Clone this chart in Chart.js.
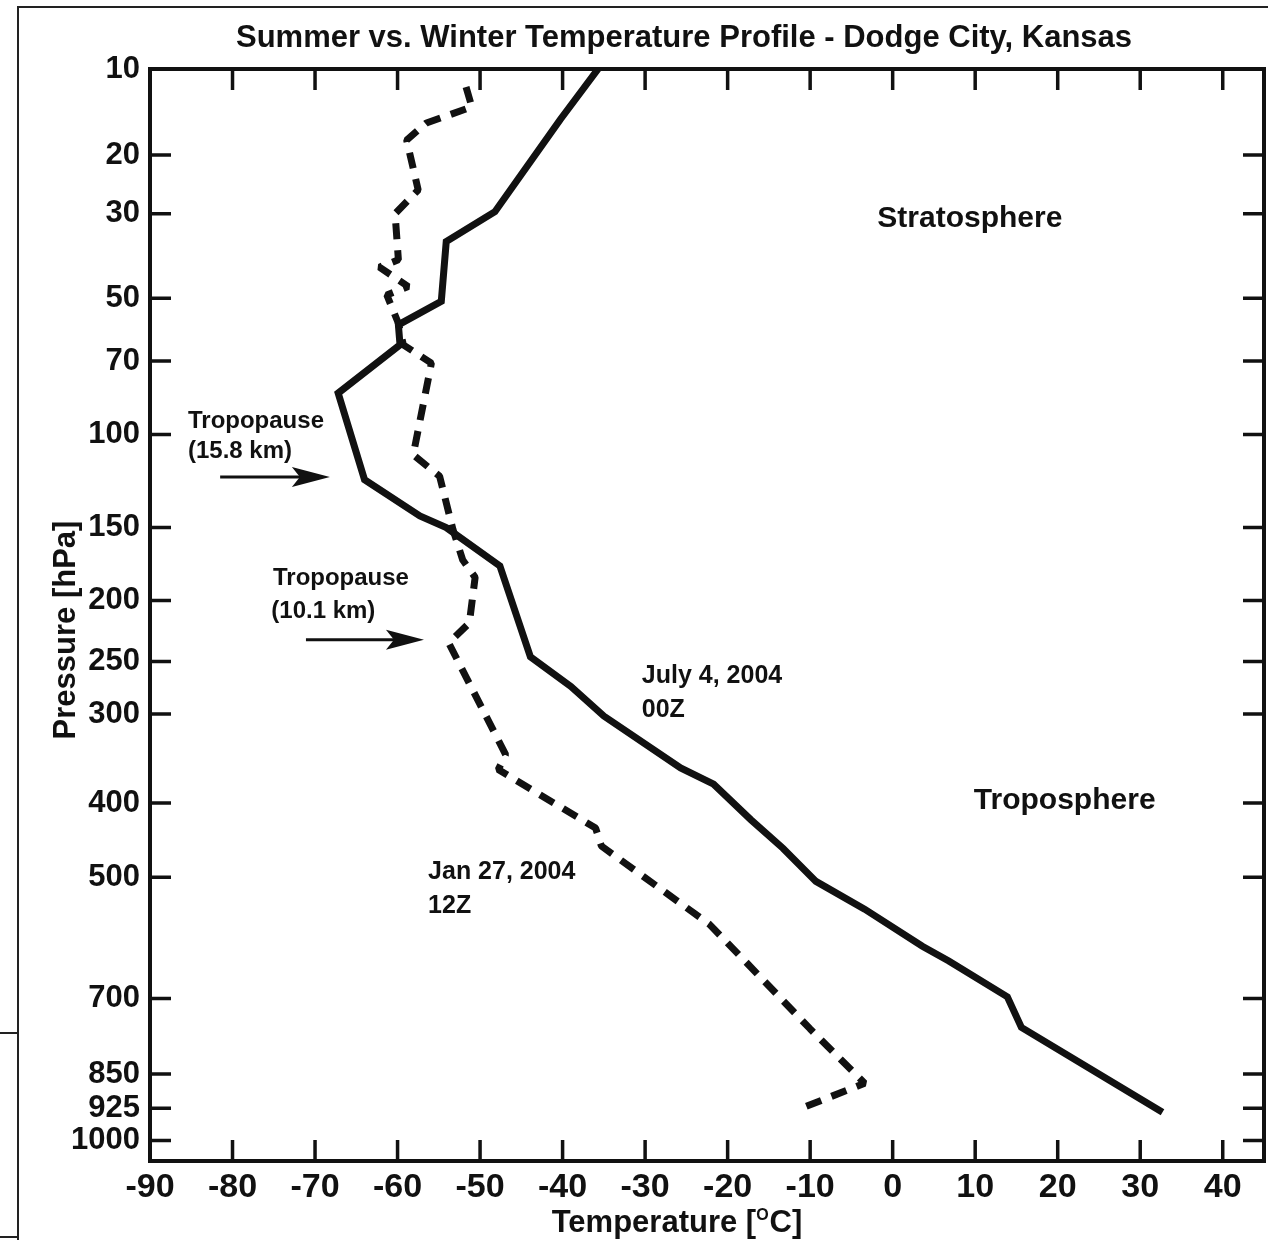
<!DOCTYPE html>
<html>
<head>
<meta charset="utf-8">
<title>Summer vs. Winter Temperature Profile - Dodge City, Kansas</title>
<script src="https://cdn.jsdelivr.net/npm/chart.js@4.4.1/dist/chart.umd.min.js"></script>
<style>
  html, body { margin: 0; padding: 0; background: #fff; }
  #wrap { position: relative; width: 1268px; height: 1240px; overflow: hidden; background: #fff; }
  #chart { position: absolute; left: 0; top: 0; }
  .edge { position: absolute; background: #222; }
</style>
</head>
<body>
<div id="wrap">
  <div class="edge" style="left:17px;top:6px;width:1251px;height:2px"></div>
  <div class="edge" style="left:17px;top:6px;width:2px;height:1234px"></div>
  <div class="edge" style="left:0;top:1032px;width:18px;height:2px"></div>
  <div class="edge" style="left:0;top:1236px;width:18px;height:2px"></div>
  <canvas id="chart" width="1268" height="1240"></canvas>
</div>
<script>
// July 4, 2004 00Z sounding (solid line)
const julyTemp = [-35.7, -40.3, -48.2, -54.1, -54.7, -59.9, -59.7, -67.2, -64.0, -57.3, -54.1, -47.6, -43.9,
                  -39.0, -35.0, -25.7, -21.7, -17.2, -13.3, -9.3, -3.4, 3.6, 6.8, 13.9, 15.6, 32.7];
const julyPres = [10, 15.3, 29.6, 35.8, 50.9, 57.9, 64.4, 82.2, 122.5, 143, 150, 175, 246,
                  273, 302, 358, 377, 421, 459, 506, 548, 608, 633, 697, 755, 934];

// Jan 27, 2004 12Z sounding (dashed line)
const janTemp = [-51.7, -51.0, -56.5, -58.9, -57.5, -60.3, -59.9, -62.2, -58.7, -61.3, -59.9, -59.3, -55.9,
                 -58.1, -54.9, -53.3, -52.1, -50.6, -51.3, -53.8, -46.9, -47.8, -36.0, -35.3, -22.2,
                 -17.7, -10.0, -3.4, -10.9];
const janPres = [11.7, 13.8, 15.7, 17.9, 25.6, 30, 40, 41.8, 46.8, 49.1, 57.4, 64.4, 70.8,
                 109.7, 120.7, 151, 171, 183, 217.5, 234, 343, 360, 432, 456, 572,
                 636, 758, 870, 924];

// axis ticks
const tempTicks = [-90, -80, -70, -60, -50, -40, -30, -20, -10, 0, 10, 20, 30, 40];
const presTicks = [10, 20, 30, 50, 70, 100, 150, 200, 250, 300, 400, 500, 700, 850, 925, 1000];

const ink = '#111';
const family = '"Liberation Sans", Arial, Helvetica, sans-serif';

// text labels placed in data units (temperature, pressure)
const notes = [
  { text: 'Stratosphere', t: 9.35, p: 31.0, size: 30, align: 'center' },
  { text: 'Troposphere', t: 20.85, p: 397, size: 30, align: 'center' },
  { text: 'Tropopause', t: -85.4, p: 93.9, size: 24, align: 'left' },
  { text: '(15.8 km)', t: -85.4, p: 107.9, size: 24, align: 'left' },
  { text: 'Tropopause', t: -75.1, p: 183.4, size: 24, align: 'left' },
  { text: '(10.1 km)', t: -75.3, p: 208, size: 24, align: 'left' },
  { text: 'July 4, 2004', t: -30.4, p: 263, size: 25, align: 'left' },
  { text: '00Z', t: -30.4, p: 296, size: 25, align: 'left' },
  { text: 'Jan 27, 2004', t: -56.3, p: 492, size: 25, align: 'left' },
  { text: '12Z', t: -56.3, p: 543, size: 25, align: 'left' }
];
const arrows = [
  { from: -81.5, to: -68.2, p: 121 },
  { from: -71.1, to: -56.8, p: 231.4 }
];

// pressure axis spaced by p^0.286 (Stuve style)
const K = 0.286;
class PressureScale extends Chart.LinearScale {
  getPixelForValue(value) {
    const a = Math.pow(this.min, K), b = Math.pow(this.max, K);
    return this.getPixelForDecimal((Math.pow(value, K) - a) / (b - a));
  }
  getValueForPixel(pixel) {
    const a = Math.pow(this.min, K), b = Math.pow(this.max, K);
    return Math.pow(a + this.getDecimalForPixel(pixel) * (b - a), 1 / K);
  }
}
PressureScale.id = 'pressure';
PressureScale.defaults = Chart.LinearScale.defaults;
Chart.register(PressureScale);

const decor = {
  id: 'decor',
  afterDatasetsDraw(chart) {
    const { ctx, chartArea: a, scales: { x, y } } = chart;
    ctx.save();
    ctx.strokeStyle = ink;
    ctx.fillStyle = ink;

    // frame and inward ticks on all four sides
    ctx.lineWidth = 4;
    ctx.strokeRect(a.left, a.top, a.right - a.left, a.bottom - a.top);
    ctx.lineWidth = 3.5;
    ctx.beginPath();
    x.ticks.forEach(tk => {
      const px = x.getPixelForValue(tk.value);
      ctx.moveTo(px, a.bottom); ctx.lineTo(px, a.bottom - 21);
      ctx.moveTo(px, a.top); ctx.lineTo(px, a.top + 21);
    });
    y.ticks.forEach(tk => {
      const py = y.getPixelForValue(tk.value);
      ctx.moveTo(a.left, py); ctx.lineTo(a.left + 21, py);
      ctx.moveTo(a.right, py); ctx.lineTo(a.right - 21, py);
    });
    ctx.stroke();

    // annotations
    ctx.textBaseline = 'middle';
    notes.forEach(n => {
      ctx.font = 'bold ' + n.size + 'px ' + family;
      ctx.textAlign = n.align;
      ctx.fillText(n.text, x.getPixelForValue(n.t), y.getPixelForValue(n.p));
    });
    ctx.lineWidth = 3;
    arrows.forEach(ar => {
      const x0 = x.getPixelForValue(ar.from), x1 = x.getPixelForValue(ar.to);
      const py = y.getPixelForValue(ar.p);
      ctx.beginPath();
      ctx.moveTo(x0, py); ctx.lineTo(x1 - 20, py);
      ctx.stroke();
      ctx.beginPath();
      ctx.moveTo(x1, py);
      ctx.lineTo(x1 - 38, py - 10);
      ctx.lineTo(x1 - 30, py);
      ctx.lineTo(x1 - 38, py + 10);
      ctx.closePath();
      ctx.fill();
    });

    // chart title
    ctx.textAlign = 'center';
    ctx.textBaseline = 'alphabetic';
    ctx.font = 'bold 31px ' + family;
    ctx.fillText('Summer vs. Winter Temperature Profile - Dodge City, Kansas', 684, 47);

    // y axis title
    ctx.save();
    ctx.translate(75, 630);
    ctx.rotate(-Math.PI / 2);
    ctx.font = 'bold 31px ' + family;
    ctx.fillText('Pressure [hPa]', 0, 0);
    ctx.restore();

    // x axis title with raised O for degrees
    const head = 'Temperature [', sup = 'O', tail = 'C]';
    ctx.font = 'bold 31px ' + family;
    const w1 = ctx.measureText(head).width, w3 = ctx.measureText(tail).width;
    ctx.font = 'bold 16px ' + family;
    const w2 = ctx.measureText(sup).width + 1;
    const tx = 677 - (w1 + w2 + w3) / 2;
    ctx.textAlign = 'left';
    ctx.font = 'bold 31px ' + family;
    ctx.fillText(head, tx, 1232);
    ctx.font = 'bold 16px ' + family;
    ctx.fillText(sup, tx + w1, 1220);
    ctx.font = 'bold 31px ' + family;
    ctx.fillText(tail, tx + w1 + w2, 1232);

    ctx.restore();
  }
};

const ctx = document.getElementById('chart').getContext('2d');
const profile = new Chart(ctx, {
  type: 'scatter',
  data: {
    datasets: [
      {
        label: 'July 4, 2004 00Z',
        data: julyTemp.map((t, i) => ({ x: t, y: julyPres[i] })),
        showLine: true,
        borderColor: ink,
        borderWidth: 7,
        borderJoinStyle: 'miter',
        pointRadius: 0,
        tension: 0
      },
      {
        label: 'Jan 27, 2004 12Z',
        data: janTemp.map((t, i) => ({ x: t, y: janPres[i] })),
        showLine: true,
        borderColor: ink,
        borderWidth: 7,
        borderDash: [16, 11],
        borderCapStyle: 'butt',
        borderJoinStyle: 'bevel',
        pointRadius: 0,
        tension: 0
      }
    ]
  },
  options: {
    responsive: false,
    animation: false,
    devicePixelRatio: 1,
    layout: { padding: { top: 69, right: 4, left: 0, bottom: 0 } },
    plugins: {
      legend: { display: false },
      tooltip: { enabled: false },
      title: { display: false }
    },
    scales: {
      x: {
        type: 'linear',
        min: -90,
        max: 45,
        afterBuildTicks: s => { s.ticks = tempTicks.map(v => ({ value: v })); },
        afterFit: s => { s.height = 79; },
        grid: { display: false, drawTicks: false },
        border: { display: false },
        ticks: {
          autoSkip: false,
          maxRotation: 0,
          minRotation: 0,
          padding: 6,
          color: ink,
          font: { family: family, size: 34, weight: 'bold' }
        }
      },
      y: {
        type: 'pressure',
        reverse: true,
        min: 10,
        max: 1050,
        afterBuildTicks: s => { s.ticks = presTicks.map(v => ({ value: v })); },
        afterFit: s => { s.width = 150; },
        grid: { display: false, drawTicks: false },
        border: { display: false },
        ticks: {
          autoSkip: false,
          padding: 10,
          color: ink,
          font: { family: family, size: 31, weight: 'bold' },
          callback: v => String(v)
        }
      }
    }
  },
  plugins: [decor]
});
</script>
</body>
</html>
